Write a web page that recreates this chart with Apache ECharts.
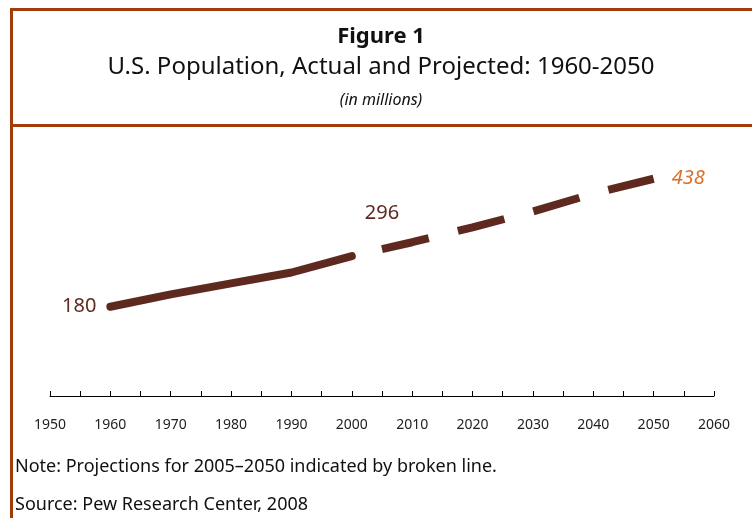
<!DOCTYPE html>
<html>
<head>
<meta charset="utf-8">
<script src="https://cdn.jsdelivr.net/npm/echarts@6/dist/echarts.min.js"></script>
<style>
  html, body { margin: 0; padding: 0; background: #fff; }
  #chart { width: 752px; height: 518px; }
</style>
</head>
<body>
<div id="chart"></div>
<script>
// actual population (millions)
const actualYears = [1960, 1970, 1980, 1990, 2000];
const actualValues = [180, 205, 227, 249, 282];
// projections
const projYears = [2005, 2010, 2020, 2030, 2040, 2050];
const projValues = [296, 310, 340, 372, 408, 438];

const brown = "#5e2a1f";
const rust = "#a33a0a";
const font = "'Liberation Sans Narrow', 'Noto Sans', sans-serif";

const chart = echarts.init(document.getElementById("chart"));

const actualData = actualYears.map((y, i) => {
  const item = { value: [y, actualValues[i]] };
  if (i === 0) {
    item.label = { show: true, position: "left", distance: 14, formatter: String(actualValues[i]) };
  }
  return item;
});
const projData = projYears.map((y, i) => {
  const item = { value: [y, projValues[i]] };
  if (i === 0) {
    item.label = { show: true, position: "top", distance: 26, formatter: String(projValues[i]) };
  }
  if (i === projYears.length - 1) {
    item.label = {
      show: true, position: "right", distance: 18, formatter: String(projValues[i]),
      color: "#d9702c", fontStyle: "italic",
    };
  }
  return item;
});

const option = {
  animation: false,
  grid: { left: 50, right: 38, top: 148, bottom: 122 },
  xAxis: {
    type: "value",
    min: 1950,
    max: 2060,
    interval: 10,
    splitLine: { show: false },
    axisLine: { show: true, lineStyle: { color: "#000", width: 1 } },
    axisTick: { show: true, inside: true, length: 5, lineStyle: { color: "#000" } },
    minorTick: { show: true, splitNumber: 2, length: 5, lineStyle: { color: "#000" } },
    axisLabel: { color: "#222", fontSize: 14, fontFamily: font, margin: 22, formatter: (v) => String(v) },
  },
  yAxis: {
    type: "value",
    min: 0,
    max: 500,
    show: false,
    splitLine: { show: false },
  },
  series: [
    {
      type: "line",
      data: actualData,
      symbol: "circle",
      symbolSize: 0,
      showSymbol: true,
      itemStyle: { color: brown, borderWidth: 0 },
      lineStyle: { color: brown, width: 8, cap: "round" },
      label: { show: false, color: brown, fontSize: 20, fontFamily: font },
    },
    {
      type: "line",
      data: projData,
      symbol: "circle",
      symbolSize: 0,
      showSymbol: true,
      itemStyle: { color: brown, borderWidth: 0 },
      lineStyle: { color: brown, width: 8, cap: "butt", type: [48, 30] },
      label: { show: false, color: brown, fontSize: 20, fontFamily: font },
    },
  ],
  graphic: [
    { type: "rect", shape: { x: 10, y: 8, width: 742, height: 3 }, style: { fill: rust } },
    { type: "rect", shape: { x: 10, y: 8, width: 3, height: 510 }, style: { fill: rust } },
    { type: "rect", shape: { x: 10, y: 124, width: 742, height: 3 }, style: { fill: rust } },
    {
      type: "text", x: 381, y: 37,
      style: { text: "Figure 1", font: "bold 22px " + font, fill: "#111", align: "center", verticalAlign: "middle" },
    },
    {
      type: "text", x: 381, y: 67,
      style: { text: "U.S. Population, Actual and Projected: 1960-2050", font: "24px " + font, fill: "#111", align: "center", verticalAlign: "middle" },
    },
    {
      type: "text", x: 381, y: 100,
      style: { text: "(in millions)", font: "italic 16px " + font, fill: "#111", align: "center", verticalAlign: "middle" },
    },
    {
      type: "text", x: 15, y: 467,
      style: { text: "Note: Projections for 2005\u20132050 indicated by broken line.", font: "18px " + font, fill: "#111", verticalAlign: "middle" },
    },
    {
      type: "text", x: 15, y: 505,
      style: { text: "Source: Pew Research Center, 2008", font: "18px " + font, fill: "#111", verticalAlign: "middle" },
    },
  ],
};

chart.setOption(option);
</script>
</body>
</html>
